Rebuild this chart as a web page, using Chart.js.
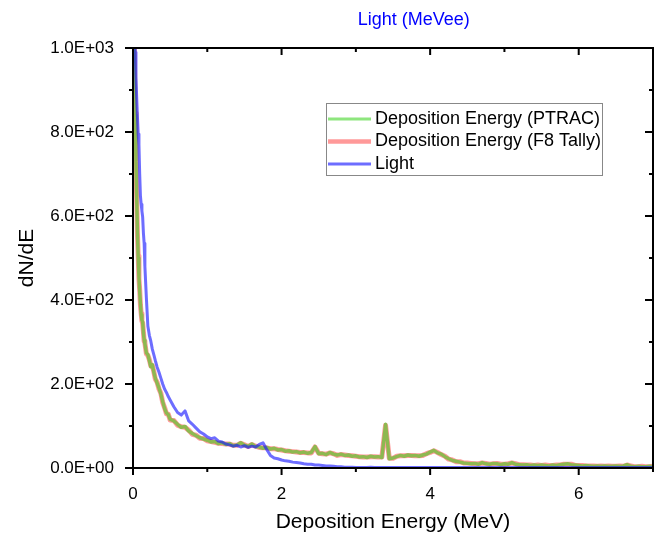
<!DOCTYPE html>
<html>
<head>
<meta charset="utf-8">
<script src="https://cdn.jsdelivr.net/npm/chart.js@4.4.0/dist/chart.umd.min.js"></script>
<style>
  body { margin: 0; background: #fff; }
  #wrap { width: 656px; height: 535px; }
</style>
</head>
<body>
<div id="wrap"><canvas id="lightChart" width="656" height="535"></canvas></div>
<script>
// deposition energy grid (MeV)
var energy = [
    0, 0.01, 0.02, 0.03, 0.04, 0.05, 0.06, 0.07, 0.08, 0.09,
    0.1, 0.11, 0.12, 0.13, 0.14, 0.15, 0.16, 0.18, 0.2, 0.22,
    0.24, 0.26, 0.28, 0.3, 0.325, 0.35, 0.375, 0.4, 0.425, 0.45,
    0.475, 0.5,
    0.55, 0.6, 0.65, 0.7, 0.75, 0.8, 0.85, 0.9, 0.95, 1.0,
    1.05, 1.1, 1.15, 1.2, 1.25, 1.3, 1.35, 1.4, 1.45, 1.5,
    1.55, 1.6, 1.65, 1.7, 1.75, 1.8, 1.85, 1.9, 1.95, 2.0,
    2.05, 2.1, 2.15, 2.2, 2.25, 2.3, 2.35, 2.4, 2.45, 2.5,
    2.55, 2.6, 2.65, 2.7, 2.75, 2.8, 2.85, 2.9, 2.95, 3.0,
    3.05, 3.1, 3.15, 3.2, 3.25, 3.3, 3.35, 3.4, 3.45, 3.5,
    3.55, 3.6, 3.65, 3.7, 3.75, 3.8, 3.85, 3.9, 3.95, 4.0,
    4.05, 4.1, 4.15, 4.2, 4.25, 4.3, 4.35, 4.4, 4.45, 4.5,
    4.55, 4.6, 4.65, 4.7, 4.75, 4.8, 4.85, 4.9, 4.95, 5.0,
    5.05, 5.1, 5.15, 5.2, 5.25, 5.3, 5.35, 5.4, 5.45, 5.5,
    5.55, 5.6, 5.65, 5.7, 5.75, 5.8, 5.85, 5.9, 5.95, 6.0,
    6.05, 6.1, 6.15, 6.2, 6.25, 6.3, 6.35, 6.4, 6.45, 6.5,
    6.55, 6.6, 6.65, 6.7, 6.75, 6.8, 6.85, 6.9, 6.95, 7.0
];

var ptrac = [
    1700, 1150, 960, 840, 730, 640, 560, 500, 455, 420,
    392, 365, 352, 348, 322, 305, 296, 274, 270, 256,
    241, 246, 228, 214, 202, 190, 176, 158, 142, 131,
    127, 116,
    112, 104, 97, 99, 88, 82, 77, 72, 69, 66,
    62, 63, 58, 60, 56, 58, 53, 55, 60, 54,
    52, 57, 51, 50, 47, 49, 45, 47, 43, 44,
    40, 41, 38, 39, 36, 38, 35, 37, 51, 34,
    35, 32, 37, 33, 31, 33, 30, 31, 28, 29,
    26, 27, 25, 28, 26, 27, 25, 104, 22, 24,
    27, 30, 28, 31, 29, 30, 28, 31, 33, 38,
    42, 36, 33, 27, 22, 18, 16, 14, 12, 11,
    10, 11, 9, 13, 10, 9, 11, 10, 8, 10,
    9, 13, 9, 8, 7, 8, 6, 7, 6, 7,
    6, 5, 7, 6, 8, 9, 10, 8, 7, 6,
    5, 6, 5, 4, 5, 4, 5, 4, 4, 5,
    4, 5, 8, 4, 3, 4, 3, 3, 4, 3
];

var f8tally = [
    1700, 1160, 955, 845, 725, 645, 555, 505, 450, 425,
    388, 368, 350, 345, 325, 302, 298, 272, 268, 258,
    243, 244, 230, 212, 204, 188, 178, 156, 144, 129,
    128, 114,
    113, 102, 98, 97, 90, 80, 78, 71, 70, 65,
    63, 61, 59, 58, 57, 57, 54, 54, 59, 55,
    51, 56, 52, 49, 48, 48, 46, 46, 44, 43,
    41, 40, 39, 38, 37, 37, 36, 36, 50, 35,
    34, 33, 36, 34, 30, 32, 31, 30, 29, 28,
    27, 26, 26, 27, 27, 26, 26, 102, 23, 23,
    28, 29, 29, 30, 30, 29, 29, 30, 34, 37,
    41, 37, 32, 28, 21, 19, 15, 15, 12, 12,
    11, 10, 10, 12, 11, 9, 10, 11, 9, 9,
    10, 12, 10, 8, 8, 7, 7, 6, 7, 6,
    7, 6, 6, 7, 7, 9, 9, 9, 6, 6,
    6, 5, 5, 5, 4, 5, 4, 5, 4, 4,
    5, 4, 7, 5, 3, 3, 4, 3, 3, 4
];

var light = [
    3000, 2000, 1300, 990, 930, 880, 835, 795, 770, 700,
    648, 628, 612, 598, 560, 535, 480, 405, 338, 316,
    302, 283, 270, 256, 240, 228, 214, 200, 188, 180,
    170, 162,
    146, 132, 126, 136, 112, 104, 95, 86, 81, 74,
    70, 72, 64, 62, 57, 55, 52, 54, 50, 53,
    49, 52, 50, 56, 60, 44, 30, 24, 22, 19,
    17, 16, 14, 13, 12, 10, 9, 9, 7, 7,
    6, 5, 5, 4, 3, 3, 2, 2, 2, 1,
    1, 1, 1, 2, 1, 1, 1, 1, 1, 1,
    1, 1, 1, 1, 1, 1, 1, 1, 1, 1,
    1, 1, 1, 1, 1, 1, 1, 1, 1, 1,
    1, 1, 1, 1, 1, 1, 1, 1, 1, 1,
    1, 1, 1, 1, 1, 1, 1, 1, 1, 1,
    1, 1, 1, 1, 1, 1, 1, 1, 1, 1,
    1, 1, 1, 1, 1, 1, 1, 1, 1, 1,
    1, 1, 1, 1, 1, 1, 1, 1, 1, 1
];

var seriesNames = ['Deposition Energy (PTRAC)', 'Deposition Energy (F8 Tally)', 'Light'];
var xMajor = [0, 2, 4, 6];
var xMinor = [1, 3, 5, 7];
var yMajor = [0, 200, 400, 600, 800, 1000];
var yMinor = [100, 300, 500, 700, 900];

var GREEN = 'rgba(50, 210, 20, 0.55)';
var RED = 'rgba(255, 0, 0, 0.4)';
var BLUE = 'rgba(20, 20, 255, 0.62)';
var FONT = '"Liberation Sans", Arial, sans-serif';

Chart.defaults.font.family = FONT;
Chart.defaults.color = '#000';

function pts(vals) {
    return vals.map(function (v, i) { return { x: energy[i], y: v }; });
}

function sci(v) {
    if (v === 0) return '0.0E+00';
    var e = Math.floor(Math.log10(v) + 1e-9);
    var m = v / Math.pow(10, e);
    return m.toFixed(1) + 'E+' + String(e).padStart(2, '0');
}

// frame, inside/outside ticks, title and legend box
var decor = {
    id: 'decor',
    afterDatasetsDraw: function (chart) {
        var ctx = chart.ctx, a = chart.chartArea;
        var xs = chart.scales.x, ys = chart.scales.y;
        ctx.save();
        ctx.strokeStyle = '#000';
        ctx.lineWidth = 2;
        ctx.strokeRect(a.left, a.top, a.right - a.left, a.bottom - a.top);
        ctx.beginPath();
        xMajor.concat(xMinor).forEach(function (v) {
            var len = xMajor.indexOf(v) >= 0 ? 7 : 4;
            var px = xs.getPixelForValue(v);
            ctx.moveTo(px, a.bottom); ctx.lineTo(px, a.bottom + len);
            ctx.moveTo(px, a.top); ctx.lineTo(px, a.top + len);
        });
        yMajor.concat(yMinor).forEach(function (v) {
            var len = yMajor.indexOf(v) >= 0 ? 8 : 4;
            var py = ys.getPixelForValue(v);
            ctx.moveTo(a.left, py); ctx.lineTo(a.left - len, py);
            ctx.moveTo(a.right, py); ctx.lineTo(a.right - len, py);
        });
        ctx.stroke();

        // title
        ctx.fillStyle = '#0000ff';
        ctx.font = '18px ' + FONT;
        ctx.textAlign = 'center';
        ctx.textBaseline = 'middle';
        ctx.fillText('Light (MeVee)', a.left + 0.54 * (a.right - a.left), 20);

        // legend
        var lx = a.left + 193, ly = a.top + 55;
        ctx.strokeStyle = '#888';
        ctx.lineWidth = 1;
        ctx.strokeRect(lx + 0.5, ly + 0.5, 276, 72);
        var cols = [GREEN, RED, BLUE];
        var widths = [3, 4.5, 3];
        ctx.textAlign = 'left';
        ctx.font = '18px ' + FONT;
        ctx.fillStyle = '#000';
        seriesNames.forEach(function (name, i) {
            var cy = ly + 16 + i * 22.5;
            ctx.beginPath();
            ctx.strokeStyle = cols[i];
            ctx.lineWidth = widths[i];
            ctx.moveTo(lx + 2, cy); ctx.lineTo(lx + 45, cy);
            ctx.stroke();
            ctx.fillText(name, lx + 49, cy);
        });
        ctx.restore();
    }
};

var ctx = document.getElementById('lightChart').getContext('2d');
var lightChart = new Chart(ctx, {
    type: 'line',
    data: {
        datasets: [{
            label: seriesNames[2],
            data: pts(light),
            borderColor: BLUE,
            borderWidth: 3,
            order: 0
        }, {
            label: seriesNames[0],
            data: pts(ptrac),
            borderColor: GREEN,
            borderWidth: 3.5,
            order: 1
        }, {
            label: seriesNames[1],
            data: pts(f8tally),
            borderColor: RED,
            borderWidth: 5,
            order: 2
        }]
    },
    options: {
        responsive: false,
        animation: false,
        parsing: false,
        elements: {
            point: { radius: 0 },
            line: { tension: 0, borderJoinStyle: 'round' }
        },
        layout: {
            padding: { top: 48, right: 3, left: 0, bottom: 0 }
        },
        plugins: {
            legend: { display: false },
            tooltip: { enabled: false }
        },
        scales: {
            x: {
                type: 'linear',
                min: 0,
                max: 7,
                grid: { display: false },
                border: { display: false },
                ticks: {
                    stepSize: 2,
                    includeBounds: false,
                    padding: 8,
                    font: { size: 17 },
                    maxRotation: 0
                },
                title: {
                    display: true,
                    text: 'Deposition Energy (MeV)',
                    font: { size: 21 },
                    padding: { top: 0, bottom: 0 }
                },
                afterFit: function (s) { s.height = 67; }
            },
            y: {
                min: 0,
                max: 1000,
                grid: { display: false },
                border: { display: false },
                ticks: {
                    stepSize: 200,
                    padding: 11,
                    font: { size: 17 },
                    callback: function (v) { return sci(v); }
                },
                title: {
                    display: true,
                    text: 'dN/dE',
                    font: { size: 21 },
                    padding: { top: 15, bottom: 0 }
                },
                afterFit: function (s) { s.width = 133; }
            }
        }
    },
    plugins: [decor]
});
</script>
</body>
</html>
